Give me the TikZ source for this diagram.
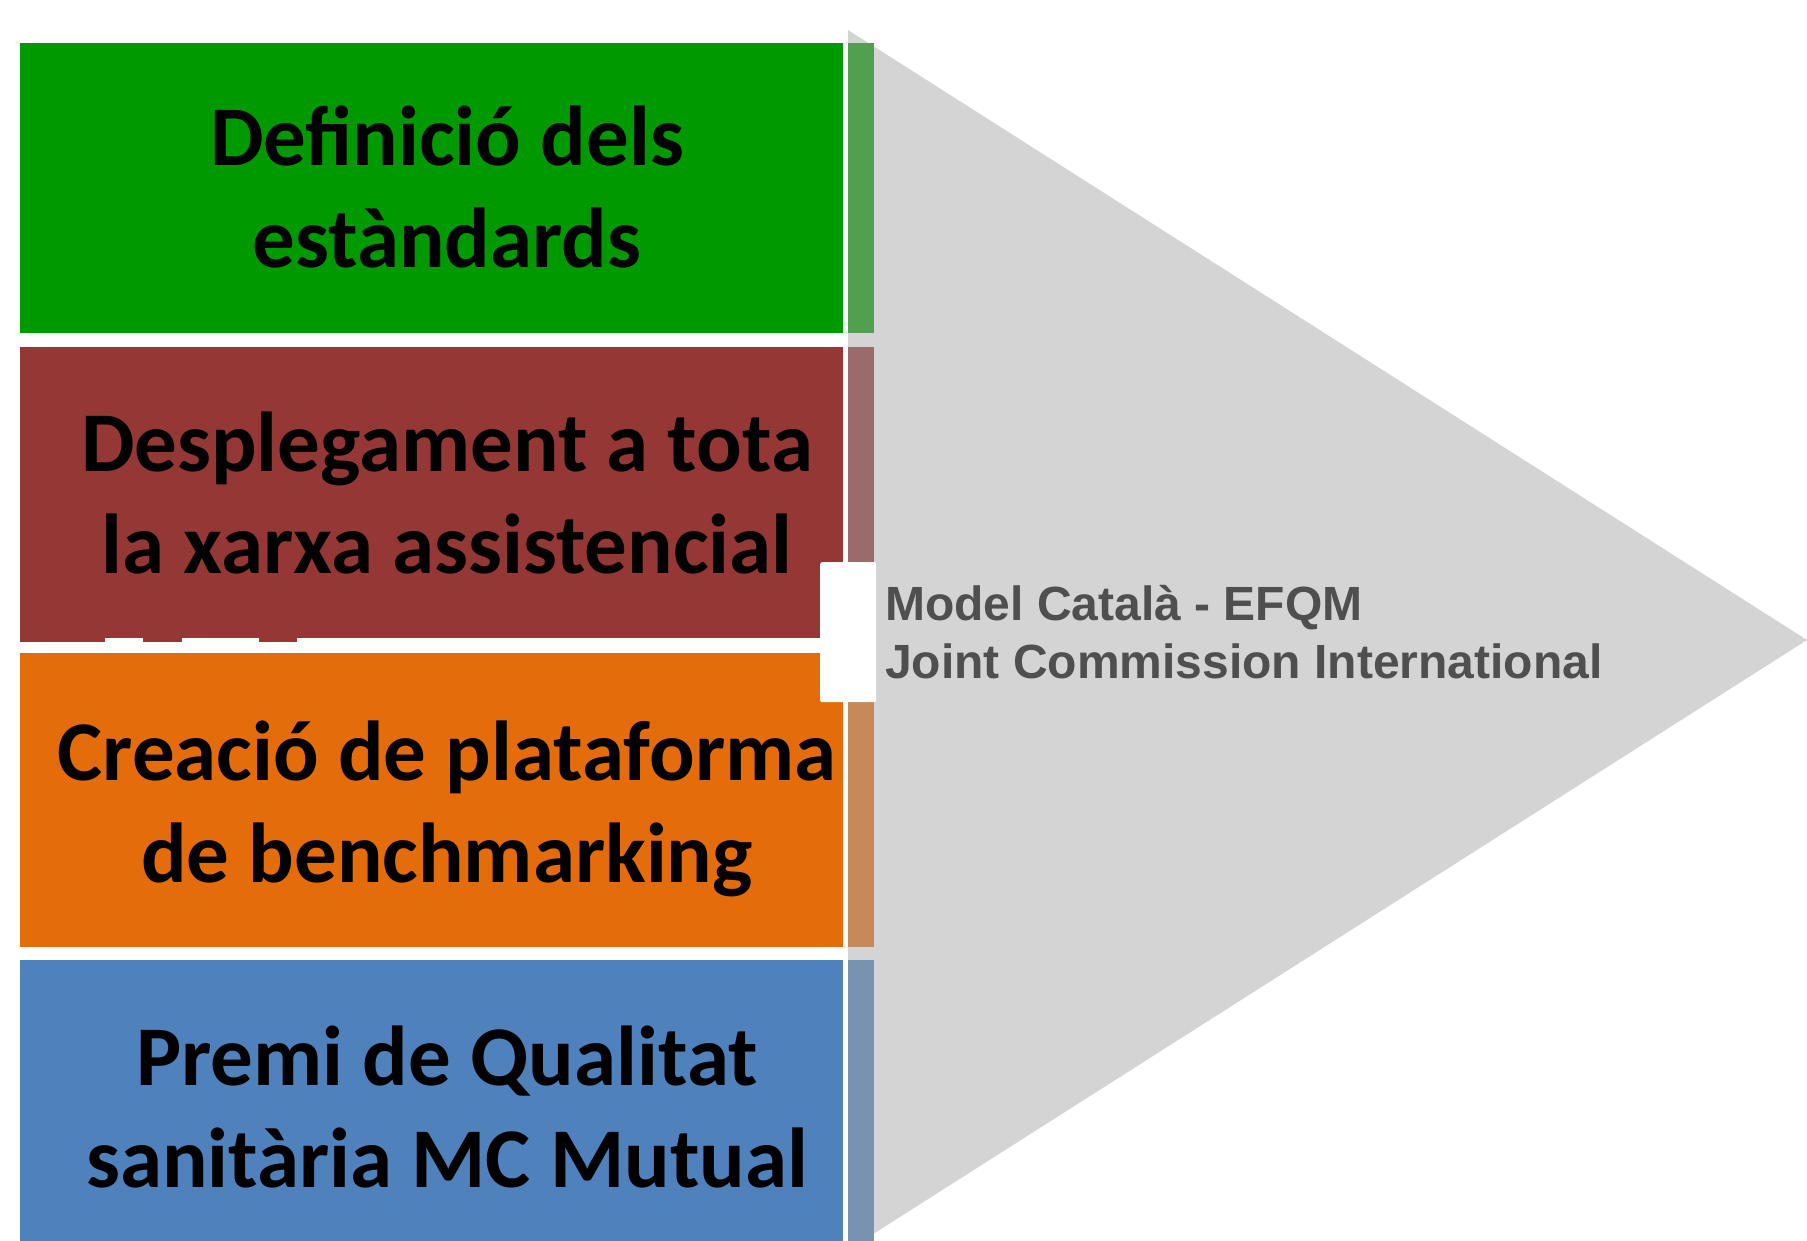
\documentclass[tikz,border=0pt]{standalone}
\usepackage{fontspec}
\newfontfamily\calibri{Carlito}
\newfontfamily\arialf{Liberation Sans}
\definecolor{cgreen}{HTML}{009900}
\definecolor{cred}{HTML}{953735}
\definecolor{corange}{HTML}{E46C0A}
\definecolor{cblue}{HTML}{4F81BD}
\definecolor{sgreen}{HTML}{50A050}
\definecolor{sred}{HTML}{9B6A6A}
\definecolor{sorange}{HTML}{C68957}
\definecolor{sblue}{HTML}{7893B0}
\definecolor{trigray}{HTML}{D4D4D4}
\definecolor{txtgray}{HTML}{4F4F4F}
\begin{document}
\begin{tikzpicture}[x=1pt,y=-1pt,
  box/.style={rectangle, draw=none, inner sep=0pt, outer sep=0pt, anchor=north west, minimum width=823pt},
  strip/.style={rectangle, draw=none, inner sep=0pt, outer sep=0pt, anchor=north west, minimum width=26pt},
  lbl/.style={inner sep=0pt, align=center, text=black, anchor=base, font=\calibri\bfseries\fontsize{85}{102}\selectfont},
  gtxt/.style={inner sep=0pt, align=left, text=txtgray, anchor=base west, font=\arialf\bfseries\fontsize{48}{58}\selectfont}]
\useasboundingbox (0,0) rectangle (1807,1241);
\clip (0,0) rectangle (1807,1241);
\fill[white] (0,0) rectangle (1807,1241);
% big gray arrow head
\fill[trigray] (848,30) -- (1807,640) -- (848,1250) -- cycle;
% boxes
\node[box, fill=cgreen, minimum height=290pt] (b1) at (20,43) {};
\node[box, fill=cred, minimum height=291pt] (b2) at (20,347) {};
\node[box, fill=corange, minimum height=294pt] (b3) at (20,653) {};
\node[box, fill=cblue, minimum height=300pt] (b4) at (20,960) {};
% small tabs under the red box
\fill[cred] (20,638) rectangle (105,642);
\fill[cred] (143,638) rectangle (182,642);
\fill[cred] (259,638) rectangle (297,642);
% strips
\node[strip, fill=sgreen, minimum height=290pt] (s1) at (848,43) {};
\node[strip, fill=sred, minimum height=291pt] (s2) at (848,347) {};
\node[strip, fill=sorange, minimum height=294pt] (s3) at (848,653) {};
\node[strip, fill=sblue, minimum height=300pt] (s4) at (848,960) {};
% white connector block
\node[rectangle, fill=white, rounded corners=2pt, inner sep=0pt, anchor=north west, minimum width=56pt, minimum height=140pt] (w) at (820,562) {};
% texts (base anchor = baseline of the last line)
\node[lbl] (t1) at (447,268) {Definició dels\\estàndards};
\node[lbl] (t2) at (447,573) {Desplegament a tota\\la xarxa assistencial};
\node[lbl] (t3) at (447,882) {Creació de plataforma\\de benchmarking};
\node[lbl] (t4) at (447,1187) {Premi de Qualitat\\sanitària MC Mutual};
\node[gtxt] (m) at (885,678) {Model Català - EFQM\\Joint Commission International};
\end{tikzpicture}
\end{document}
